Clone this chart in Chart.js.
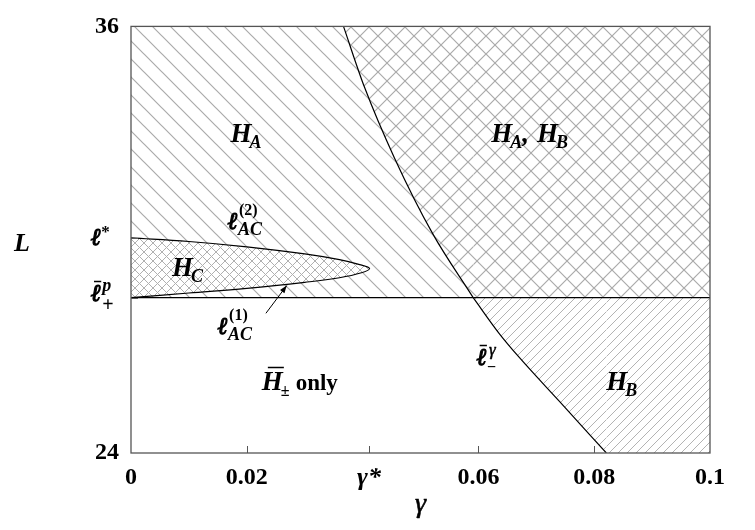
<!DOCTYPE html>
<html>
<head>
<meta charset="utf-8">
<script src="https://cdn.jsdelivr.net/npm/chart.js@4.4.1/dist/chart.umd.min.js"></script>
<style>
html,body{margin:0;padding:0;background:#fff;}
#wrap{width:755px;height:530px;position:relative;}
</style>
</head>
<body>
<div id="wrap"><canvas id="c"></canvas></div>
<script>
// ---- data ----
const xRange = [0, 0.1];
const yRange = [24, 36];
const xTickValues = [0, 0.02, 0.0411, 0.06, 0.08, 0.1];
const xTickLabels = ['0', '0.02', 'γ*', '0.06', '0.08', '0.1'];
const yTickValues = [24, 28.37, 30.05, 36];
const yTickLabels = ['24', '', '', '36'];
const lPlusP = 28.37;   // \bar{l}_+^p
const lStar = 30.05;    // l*
// boundary curve \bar{l}_-^gamma, split at its crossing with lPlusP
const curveUpperGamma = [0.0367, 0.0403, 0.0455, 0.0521, 0.0591];
const curveUpperL     = [36, 34.3, 32.3, 30.17, 28.37];
const curveLowerGamma = [0.0591, 0.0636, 0.0671, 0.0740, 0.0821];
const curveLowerL     = [28.37, 27.36, 26.68, 25.45, 24];
// H_C region: upper branch l_AC^(2) then lower branch l_AC^(1) back
const hcUpperGamma = [0, 0.01, 0.02, 0.03, 0.036, 0.0395, 0.0412];
const hcUpperL     = [30.05, 29.95, 29.80, 29.60, 29.44, 29.30, 29.19];
const hcLowerGamma = [0.0398, 0.036, 0.03, 0.02, 0.01, 0];
const hcLowerL     = [29.07, 28.93, 28.80, 28.63, 28.50, 28.37];

const pts = (xs, ys) => xs.map((x, i) => ({x: x, y: ys[i]}));

// ---- hatch patterns ----
function hatch(spacing, dirs, color, bg, lw) {
  const s = spacing;
  const c = document.createElement('canvas');
  c.width = s; c.height = s;
  const g = c.getContext('2d');
  if (bg) { g.fillStyle = bg; g.fillRect(0, 0, s, s); }
  g.strokeStyle = color; g.lineWidth = lw || 1.2;
  g.beginPath();
  if (dirs.includes('/')) {
    g.moveTo(-1, s + 1); g.lineTo(s + 1, -1);
    g.moveTo(-s - 1, s + 1); g.lineTo(1, -1);
    g.moveTo(s - 1, s + 1); g.lineTo(2 * s + 1, -1);
  }
  if (dirs.includes('\\')) {
    g.moveTo(-1, -1); g.lineTo(s + 1, s + 1);
    g.moveTo(-s - 1, -1); g.lineTo(1, s + 1);
    g.moveTo(s - 1, -1); g.lineTo(2 * s + 1, s + 1);
  }
  g.stroke();
  return g.createPattern(c, 'repeat');
}
const patA  = hatch(18, '\\', '#aaaaaa', null, 1.2);
const patAB = hatch(18, '/',  '#aaaaaa', null, 1.2);
const patB  = hatch(9,  '/',  '#b3b3b3', null, 1.0);
const patC  = hatch(9,  '/\\', '#b0b0b0', '#ffffff', 1.0);

const SERIF = "'Liberation Serif','DejaVu Serif',serif";
const ELLF = "'DejaVu Serif','Liberation Serif',serif";

const base = {showLine: true, pointRadius: 0, pointHoverRadius: 0};

const datasets = [
  Object.assign({}, base, { label: 'hline', data: pts([0, 0.1], [lPlusP, lPlusP]),
    borderColor: '#000', borderWidth: 1.3, fill: false, order: 1 }),
  Object.assign({}, base, { label: 'HC', data: pts(hcUpperGamma.concat(hcLowerGamma), hcUpperL.concat(hcLowerL)),
    borderColor: '#000', borderWidth: 1.2, backgroundColor: patC, fill: 'shape', tension: 0.4, order: 2 }),
  Object.assign({}, base, { label: 'curveUpper', data: pts(curveUpperGamma, curveUpperL),
    borderColor: '#000', borderWidth: 1.2, backgroundColor: patAB, fill: {value: 36},
    cubicInterpolationMode: 'monotone', order: 3 }),
  Object.assign({}, base, { label: 'curveLower', data: pts(curveLowerGamma, curveLowerL),
    borderColor: '#000', borderWidth: 1.2, backgroundColor: patB, fill: {value: lPlusP},
    cubicInterpolationMode: 'monotone', order: 4 }),
  Object.assign({}, base, { label: 'ABrect', data: pts([0.0591, 0.1], [36, 36]),
    borderWidth: 0, borderColor: 'rgba(0,0,0,0)', backgroundColor: patAB, fill: {value: lPlusP}, order: 5 }),
  Object.assign({}, base, { label: 'Brect', data: pts([0.0821, 0.1], [lPlusP, lPlusP]),
    borderWidth: 0, borderColor: 'rgba(0,0,0,0)', backgroundColor: patB, fill: {value: 24}, order: 6 }),
  Object.assign({}, base, { label: 'HA', data: pts([0, 0.1], [36, 36]),
    borderWidth: 0, borderColor: 'rgba(0,0,0,0)', backgroundColor: patA, fill: {value: lPlusP}, order: 10 })
];

function put(ctx, s, x, y, font, align, bold) {
  ctx.font = font; ctx.textAlign = align || 'left'; ctx.textBaseline = 'alphabetic';
  ctx.fillText(s, x, y);
  if (bold) { ctx.lineWidth = bold; ctx.strokeStyle = '#000'; ctx.strokeText(s, x, y); }
  return ctx.measureText(s).width;
}
function bar(ctx, x1, x2, y) {
  y = Math.round(y) + 0.5;
  ctx.beginPath(); ctx.moveTo(x1, y); ctx.lineTo(x2, y); ctx.lineWidth = 1.5; ctx.strokeStyle = '#000'; ctx.stroke();
}
const BIG = `bold italic 27px ${SERIF}`;
const SUB = `bold italic 18px ${SERIF}`;
const SUBUP = `bold 16px ${SERIF}`;
const ELL = `bold italic 24px ${ELLF}`;
const ell = (ctx, x, y) => put(ctx, 'ℓ', x, y, ELL, 'left', 1.1);

function H(ctx, x, y, sub) {
  const w = put(ctx, 'H', x, y, BIG);
  const w2 = put(ctx, sub, x + w - 2, y + 6, SUB);
  return w + w2 - 2;
}

const overlay = {
  id: 'overlay',
  afterDatasetsDraw(chart) {
    const ctx = chart.ctx, xs = chart.scales.x, ys = chart.scales.y, a = chart.chartArea;
    ctx.save();
    // frame
    ctx.strokeStyle = '#555'; ctx.lineWidth = 1.3;
    ctx.strokeRect(a.left, a.top, a.right - a.left, a.bottom - a.top);
    // inward ticks
    ctx.beginPath();
    xTickValues.forEach(v => { if (v > xRange[0] && v < xRange[1]) { const p = Math.round(xs.getPixelForValue(v)) + 0.5; ctx.moveTo(p, a.bottom); ctx.lineTo(p, a.bottom - 7); } });
    yTickValues.forEach(v => { if (v > yRange[0] && v < yRange[1]) { const p = Math.round(ys.getPixelForValue(v)) + 0.5; ctx.moveTo(a.left, p); ctx.lineTo(a.left + 7, p); } });
    ctx.lineWidth = 1; ctx.stroke();

    ctx.fillStyle = '#000';
    const X = v => xs.getPixelForValue(v), Y = v => ys.getPixelForValue(v);
    // region labels
    H(ctx, X(0.0172), Y(32.75), 'A');
    let x0 = X(0.0622), y0 = Y(32.75);
    let w = H(ctx, x0, y0, 'A');
    w += put(ctx, ',', x0 + w, y0, BIG);
    H(ctx, x0 + w + 8, y0, 'B');
    H(ctx, X(0.0071), Y(28.99), 'C');
    H(ctx, X(0.0821), Y(25.77), 'B');
    // \bar H_\pm only
    x0 = X(0.0226); y0 = Y(25.77);
    w = put(ctx, 'H', x0, y0, BIG);
    bar(ctx, x0 + 6, x0 + w + 1, y0 - 23);
    const w2 = put(ctx, '±', x0 + w - 2, y0 + 6, SUBUP);
    put(ctx, 'only', x0 + w + w2 + 4, y0, `bold 23px ${SERIF}`);
    // l_AC^(2)
    x0 = X(0.0167); y0 = Y(30.31);
    w = ell(ctx, x0, y0);
    put(ctx, '(2)', x0 + w + 1, y0 - 14, SUBUP);
    put(ctx, 'AC', x0 + w, y0 + 6, SUB);
    // l_AC^(1)
    x0 = X(0.0150); y0 = Y(27.36);
    w = ell(ctx, x0, y0);
    put(ctx, '(1)', x0 + w + 1, y0 - 14, SUBUP);
    put(ctx, 'AC', x0 + w, y0 + 6, SUB);
    // arrow
    const ax1 = X(0.0233), ay1 = Y(27.93), ax2 = X(0.0269), ay2 = Y(28.71);
    ctx.beginPath(); ctx.moveTo(ax1, ay1); ctx.lineTo(ax2, ay2); ctx.lineWidth = 1; ctx.strokeStyle = '#000'; ctx.stroke();
    const ang = Math.atan2(ay2 - ay1, ax2 - ax1);
    ctx.beginPath();
    ctx.moveTo(ax2, ay2);
    ctx.lineTo(ax2 - 8 * Math.cos(ang - 0.35), ay2 - 8 * Math.sin(ang - 0.35));
    ctx.lineTo(ax2 - 8 * Math.cos(ang + 0.35), ay2 - 8 * Math.sin(ang + 0.35));
    ctx.closePath(); ctx.fill();
    // \bar l_-^gamma
    x0 = X(0.0597); y0 = Y(26.47);
    w = ell(ctx, x0, y0);
    bar(ctx, x0 + 3, x0 + w, y0 - 20);
    put(ctx, 'γ', x0 + w + 2, y0 - 10, `italic 17px ${SERIF}`, 'left', 0.5);
    put(ctx, '−', x0 + w, y0 + 7, SUBUP);
    // y axis math tick labels
    x0 = a.left - 40; y0 = Y(lStar) + 7;
    w = ell(ctx, x0, y0);
    put(ctx, '*', x0 + w, y0 - 8, `bold 17px ${SERIF}`);
    x0 = a.left - 40; y0 = Y(lPlusP) + 3;
    w = ell(ctx, x0, y0);
    bar(ctx, x0 + 3, x0 + w, y0 - 20);
    put(ctx, 'p', x0 + w + 1, y0 - 10, SUB);
    put(ctx, '+', x0 + w + 1, y0 + 10, `bold 20px ${SERIF}`);
    // axis titles
    put(ctx, 'L', 14, Y(29.9) + 8, `bold italic 26px ${SERIF}`);
    put(ctx, 'γ', (a.left + a.right) / 2, 512, `italic 28px ${SERIF}`, 'center', 0.6);
    ctx.restore();
  }
};

new Chart(document.getElementById('c'), {
  type: 'scatter',
  data: { datasets: datasets },
  options: {
    responsive: true, maintainAspectRatio: false, animation: false,
    layout: { padding: { left: 0, right: 45, top: 25, bottom: 0 } },
    plugins: { legend: { display: false }, tooltip: { enabled: false }, filler: { propagate: false } },
    scales: {
      x: {
        type: 'linear', min: xRange[0], max: xRange[1],
        afterBuildTicks: s => { s.ticks = xTickValues.map(v => ({value: v})); },
        afterFit: s => { s.height = 77; },
        grid: { display: false, drawTicks: false },
        border: { display: false },
        ticks: {
          autoSkip: false, maxRotation: 0, padding: 10, color: '#000',
          callback: (v, i) => xTickLabels[i],
          font: c => (xTickLabels[c.index] === 'γ*') ? { family: SERIF, size: 26, style: 'italic', weight: 'bold' } : { family: SERIF, size: 24, weight: 'bold' }
        }
      },
      y: {
        type: 'linear', min: yRange[0], max: yRange[1],
        afterBuildTicks: s => { s.ticks = yTickValues.map(v => ({value: v})); },
        afterFit: s => { s.width = 131; },
        grid: { display: false, drawTicks: false },
        border: { display: false },
        ticks: {
          autoSkip: false, padding: 12, color: '#000',
          callback: (v, i) => yTickLabels[i],
          font: { family: SERIF, size: 24, weight: 'bold' }
        }
      }
    }
  },
  plugins: [overlay]
});
</script>
</body>
</html>
